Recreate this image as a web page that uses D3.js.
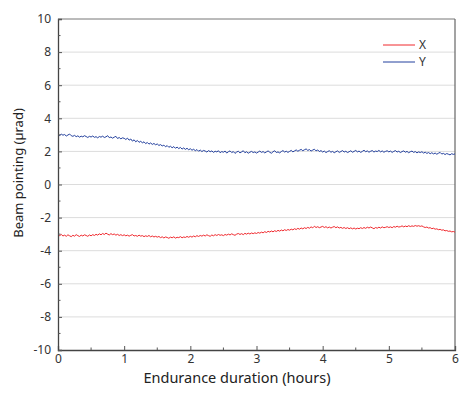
<!DOCTYPE html>
<html lang="en">
<head>
  <meta charset="UTF-8">
  <title>Beam pointing endurance</title>
  <script src="https://d3js.org/d3.v7.min.js"></script>
  <style>
    body {
      margin: 0;
      background-color: #fff;
      font-family: "Noto Sans", Arial, sans-serif;
    }
  </style>
</head>
<body>
<div id="chart"></div>

<script>
// Sampling step of the record (hours)
const step = 0.025;

// Beam pointing X (µrad)
const seriesX = [
  -3.05, -3.09, -3.02, -3.11, -3.06, -3.13, -3.04, -3.10, -3.15, -3.07, -3.12, -3.03, -3.09, -3.14, -3.06, -3.11, -3.04, -3.08, -3.13, -3.05,
  -3.10, -3.03, -3.08, -3.01, -3.06, -2.98, -3.04, -2.96, -3.02, -2.94, -3.00, -3.05, -2.97, -3.03, -2.99, -3.06, -3.01, -3.08, -3.03, -3.09,
  -3.04, -3.10, -3.06, -3.12, -3.07, -3.03, -3.11, -3.08, -3.13, -3.06, -3.12, -3.09, -3.15, -3.10, -3.14, -3.08, -3.16, -3.11, -3.17, -3.13,
  -3.18, -3.14, -3.21, -3.16, -3.23, -3.17, -3.20, -3.25, -3.18, -3.22, -3.16, -3.24, -3.19, -3.21, -3.15, -3.22, -3.17, -3.20, -3.14, -3.19,
  -3.13, -3.18, -3.11, -3.16, -3.09, -3.14, -3.08, -3.12, -3.06, -3.11, -3.04, -3.09, -3.13, -3.05, -3.10, -3.03, -3.08, -3.02, -3.07, -3.04,
  -3.09, -3.02, -3.06, -3.00, -3.05, -2.98, -3.03, -3.07, -3.00, -2.96, -3.02, -2.97, -3.03, -2.95, -3.00, -2.94, -2.99, -2.93, -2.97, -2.92,
  -2.96, -2.90, -2.94, -2.88, -2.92, -2.85, -2.90, -2.83, -2.87, -2.81, -2.86, -2.79, -2.84, -2.77, -2.82, -2.75, -2.80, -2.73, -2.78, -2.72,
  -2.76, -2.70, -2.74, -2.67, -2.72, -2.65, -2.70, -2.63, -2.68, -2.61, -2.66, -2.59, -2.64, -2.56, -2.62, -2.52, -2.60, -2.55, -2.61, -2.57,
  -2.53, -2.60, -2.55, -2.62, -2.57, -2.63, -2.58, -2.54, -2.61, -2.56, -2.63, -2.59, -2.65, -2.60, -2.66, -2.61, -2.67, -2.62, -2.68, -2.63,
  -2.69, -2.64, -2.67, -2.61, -2.66, -2.60, -2.65, -2.58, -2.63, -2.57, -2.62, -2.67, -2.60, -2.64, -2.58, -2.63, -2.56, -2.61, -2.59, -2.55,
  -2.60, -2.56, -2.61, -2.54, -2.58, -2.52, -2.57, -2.55, -2.50, -2.56, -2.51, -2.55, -2.49, -2.54, -2.50, -2.53, -2.48, -2.52, -2.49, -2.53,
  -2.50, -2.56, -2.60, -2.57, -2.63, -2.61, -2.67, -2.64, -2.70, -2.68, -2.73, -2.71, -2.76, -2.74, -2.80, -2.78, -2.83, -2.81, -2.86, -2.84,
  -2.88
];

// Beam pointing Y (µrad)
const seriesY = [
  3.00, 2.96, 3.04, 2.98, 3.02, 2.93, 2.99, 3.05, 2.95, 2.91, 2.97, 2.89, 2.94, 2.86, 2.92, 2.88, 2.95, 2.90, 2.84, 2.91,
  2.87, 2.93, 2.85, 2.89, 2.82, 2.90, 2.86, 2.92, 2.84, 2.88, 2.95, 2.83, 2.87, 2.80, 2.86, 2.91, 2.78, 2.84, 2.76, 2.82,
  2.79, 2.72, 2.80, 2.68, 2.75, 2.62, 2.70, 2.58, 2.66, 2.55, 2.61, 2.52, 2.58, 2.47, 2.54, 2.44, 2.51, 2.42, 2.48, 2.40,
  2.45, 2.36, 2.41, 2.33, 2.38, 2.28, 2.35, 2.25, 2.31, 2.22, 2.29, 2.19, 2.26, 2.17, 2.24, 2.14, 2.21, 2.12, 2.19, 2.10,
  2.16, 2.07, 2.13, 2.04, 2.11, 2.01, 2.08, 1.99, 2.06, 2.02, 1.96, 2.05, 1.98, 2.03, 1.94, 2.01, 1.97, 2.04, 1.92, 1.99,
  1.95, 2.02, 1.90, 1.98, 2.03, 1.93, 1.99, 1.88, 1.96, 2.01, 1.91, 1.97, 2.04, 1.92, 1.98, 1.89, 1.95, 2.00, 1.93, 1.97,
  1.90, 1.96, 2.02, 1.94, 1.99, 1.91, 1.97, 2.03, 1.95, 1.89, 1.98, 2.04, 1.93, 1.97, 1.91, 1.99, 2.05, 1.96, 2.01, 1.94,
  2.00, 2.06, 1.97, 2.03, 2.09, 2.01, 2.07, 2.12, 2.04, 2.10, 2.15, 2.06, 2.11, 2.02, 2.08, 2.13, 2.03, 2.09, 1.99, 2.05,
  1.96, 2.02, 1.93, 1.99, 2.04, 1.95, 2.00, 1.92, 1.98, 2.03, 1.94, 1.99, 2.05, 1.96, 2.01, 1.93, 1.98, 2.04, 1.95, 2.00,
  2.06, 1.97, 2.02, 1.94, 2.00, 2.07, 1.98, 2.03, 1.95, 2.01, 2.05, 1.96, 2.02, 1.99, 2.06, 1.97, 2.03, 1.95, 2.00, 2.04,
  1.97, 2.02, 1.94, 2.00, 2.05, 1.96, 2.01, 1.93, 1.99, 2.03, 1.95, 2.00, 1.92, 1.98, 2.02, 1.94, 1.99, 1.91, 1.97, 1.93,
  1.98, 1.90, 1.95, 1.88, 1.93, 1.86, 1.92, 1.85, 1.90, 1.83, 1.89, 1.94, 1.84, 1.88, 1.81, 1.87, 1.83, 1.79, 1.86, 1.82,
  1.85
];

const seriesNames = ["X", "Y"];
const seriesColors = ["#f0282d", "#23409e"];
const xTicks = [0, 1, 2, 3, 4, 5, 6];
const yTicks = [-10, -8, -6, -4, -2, 0, 2, 4, 6, 8, 10];

const width = 471;
const height = 395;
const margin = { top: 19, right: 16, bottom: 45, left: 58 };
const innerW = width - margin.left - margin.right;
const innerH = height - margin.top - margin.bottom;

const svg = d3.select("#chart")
  .append("svg")
  .attr("width", width)
  .attr("height", height);

const g = svg.append("g")
  .attr("transform", `translate(${margin.left},${margin.top})`);

const x = d3.scaleLinear().domain([0, 6]).range([0, innerW]);
const y = d3.scaleLinear().domain([-10, 10]).range([innerH, 0]);

// plain hyphen for negatives, like the original
const fmt = d => String(d);

// Horizontal gridlines
g.selectAll(".grid")
  .data(yTicks.filter(t => t > -10 && t < 10))
  .enter().append("line")
  .attr("x1", 0)
  .attr("x2", innerW)
  .attr("y1", d => y(d))
  .attr("y2", d => y(d))
  .style("stroke", "#dcdcdc")
  .style("stroke-width", 1);

// Frame: top and right
g.append("line")
  .attr("x1", 0).attr("x2", innerW).attr("y1", 0).attr("y2", 0)
  .style("stroke", "#777").style("stroke-width", 1);
g.append("line")
  .attr("x1", innerW).attr("x2", innerW).attr("y1", 0).attr("y2", innerH)
  .style("stroke", "#666").style("stroke-width", 1.2);

// Lines
const line = d3.line()
  .x((d, i) => x(i * step))
  .y(d => y(d));

[seriesX, seriesY].forEach((s, k) => {
  g.append("path")
    .datum(s)
    .attr("d", line)
    .style("fill", "none")
    .style("stroke", seriesColors[k])
    .style("stroke-width", 1);
});

// Axes
const xAxis = d3.axisBottom(x)
  .tickValues(xTicks)
  .tickSize(-4)
  .tickPadding(4)
  .tickFormat(fmt);

const yAxis = d3.axisLeft(y)
  .tickValues(yTicks)
  .tickSize(-4)
  .tickPadding(7)
  .tickFormat(fmt);

const gx = g.append("g")
  .attr("transform", `translate(0,${innerH})`)
  .call(xAxis);

const gy = g.append("g").call(yAxis);

// Minor ticks
gx.selectAll(".minor")
  .data(d3.range(0.5, 6, 1))
  .enter().append("line")
  .attr("x1", d => x(d)).attr("x2", d => x(d))
  .attr("y1", 0).attr("y2", -2.5)
  .style("stroke", "#555");

gy.selectAll(".minor")
  .data(d3.range(-9, 10, 2))
  .enter().append("line")
  .attr("y1", d => y(d)).attr("y2", d => y(d))
  .attr("x1", 0).attr("x2", 2.5)
  .style("stroke", "#555");

[gx, gy].forEach(a => {
  a.select(".domain").style("stroke", "#444").style("stroke-width", 1.3);
  a.selectAll(".tick line").style("stroke", "#555");
  a.selectAll(".tick text")
    .style("font-family", "'Noto Sans', Arial, sans-serif")
    .style("font-size", "12px")
    .style("fill", "#333");
});

// Axis titles
svg.append("text")
  .attr("x", 237)
  .attr("y", 382.5)
  .attr("text-anchor", "middle")
  .style("font-size", "14.5px")
  .style("fill", "#222")
  .text("Endurance duration (hours)");

svg.append("text")
  .attr("transform", "translate(23,173) rotate(-90)")
  .attr("text-anchor", "middle")
  .style("font-size", "13px")
  .style("fill", "#222")
  .text("Beam pointing (µrad)");

// Legend
const legend = g.append("g");
seriesNames.forEach((name, i) => {
  const ly = 26 + i * 17;
  legend.append("line")
    .attr("x1", 325).attr("x2", 357)
    .attr("y1", ly).attr("y2", ly)
    .style("stroke", seriesColors[i])
    .style("stroke-width", 1);
  legend.append("text")
    .attr("x", 361)
    .attr("y", ly)
    .attr("dy", "0.35em")
    .style("font-size", "12px")
    .style("fill", "#333")
    .text(name);
});
</script>
</body>
</html>
